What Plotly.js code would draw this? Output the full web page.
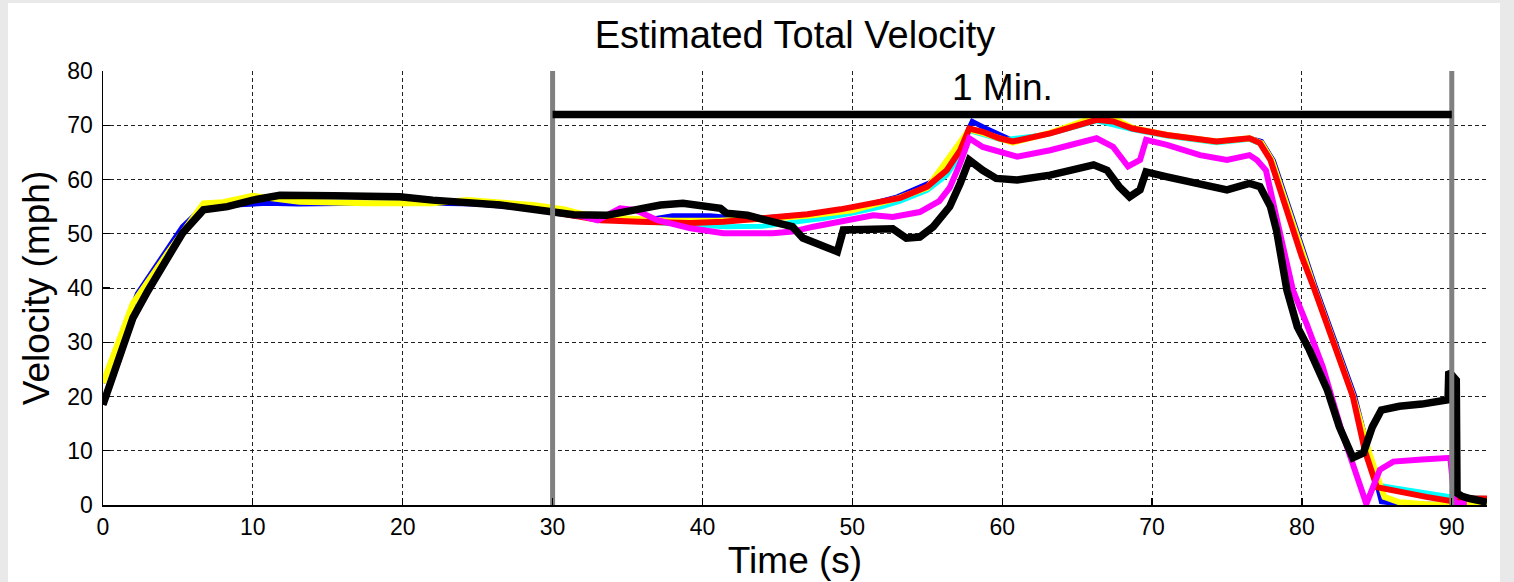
<!DOCTYPE html>
<html>
<head>
<meta charset="utf-8">
<script src="https://cdn.plot.ly/plotly-3.0.1.min.js"></script>
<style>
  html, body { margin: 0; padding: 0; background: #e9e9e9; width: 1514px; height: 582px; overflow: hidden; }
  #chart { position: absolute; left: 8px; top: 3px; width: 1492px; height: 579px; background: #ffffff; }
</style>
</head>
<body>
<div id="chart"></div>
<script>
// ---- Data ----
const chartTitle = "Estimated Total Velocity";
const xTitle = "Time (s)";
const yTitle = "Velocity (mph)";
const xTicks = [0, 10, 20, 30, 40, 50, 60, 70, 80, 90];
const yTicks = [0, 10, 20, 30, 40, 50, 60, 70, 80];

const tBlue = [0, 2.3, 5.3, 6.7, 8, 10.9, 13, 17, 20, 25, 30, 33, 36, 38, 40.5, 43, 47, 50, 53, 55.5, 56.5, 57.2, 58, 58.8, 59.8, 60.7, 63.2, 66.3, 67.4, 68.7, 71, 74.3, 76.5, 77.3, 78.1, 80.9, 83.5, 84.4, 85.3, 86.5, 90, 92.35];
const vBlue = [22.5, 39, 51.3, 55, 55.2, 55.6, 55.5, 55.6, 55.7, 55.5, 54.2, 52.6, 52.4, 53.3, 53.3, 52.7, 53.5, 54.6, 56.8, 59.8, 62.3, 66, 70.7, 69.6, 68.3, 67.2, 68.5, 71.2, 70.9, 69.5, 68.2, 67, 67.6, 67, 63.5, 40.2, 20.3, 10, 0.6, 0.2, 0.1, 0.1];

const tCyan = [0, 2, 3.8, 5.3, 6.7, 8.3, 10, 11.8, 15.4, 19.8, 22, 26.5, 29.8, 33, 36, 40, 41.5, 44, 46, 48, 50, 52, 53.2, 55, 56.3, 57.2, 57.8, 58.7, 60, 63, 66.3, 68.7, 71, 74.3, 76.5, 77.3, 78, 80.8, 83.4, 84.5, 85.2, 86.5, 88.5, 90, 92.35];
const vCyan = [18.5, 34.5, 43.3, 50.1, 54.4, 55, 56.2, 57.1, 57, 56.8, 56.2, 55.3, 54.1, 52.8, 52.2, 51.6, 51.3, 51.4, 52, 52.8, 53.8, 55, 56, 58, 60.8, 64.5, 69, 68.4, 67.3, 68.3, 70.8, 69.2, 68, 66.8, 67.4, 66.5, 63.3, 40, 20, 8, 3.6, 3, 2.2, 1.5, 1.2];

const tYellow = [0, 2, 4.3, 6.7, 8, 10, 13.1, 17.6, 22, 24.3, 28.7, 30.8, 32, 35, 38, 41, 44, 47, 50, 53, 55, 57.8, 58.7, 60.7, 63.2, 65, 66.3, 67.4, 68.7, 71, 74.3, 76.5, 77.3, 78, 80.8, 83.4, 84.5, 85.5, 86.5, 88.5, 90, 92.35];
const vYellow = [22.5, 37.2, 46.4, 55.6, 55.8, 57, 55.9, 55.6, 55.6, 56.2, 55.3, 54.5, 53.6, 52.8, 52.4, 52.4, 52.7, 53.3, 54.3, 56.5, 58.5, 69.2, 68.6, 66.8, 68.6, 70.2, 71.6, 71.3, 69.5, 68.2, 67, 67.6, 66.7, 63.5, 40.2, 20.2, 9.5, 1.5, 0.5, 0.1, 0.1, 0.1];

const tRed = [0, 2, 3.8, 5.3, 6.7, 8.3, 10, 11.8, 15.4, 19.8, 22, 26.5, 29.8, 33.2, 35.8, 39.2, 41.4, 44.7, 47, 49.2, 51.4, 53.2, 55, 56.3, 57.2, 57.8, 58.7, 59.8, 60.7, 63.2, 66.3, 67.4, 68.7, 71, 74.3, 76.5, 77.2, 77.9, 80, 80.8, 83.4, 84.2, 85, 86.5, 88.3, 90, 90.3, 92.35];
const vRed = [18.5, 34.5, 43.3, 50.1, 54.4, 55, 56.2, 57.1, 57, 56.8, 56.2, 55.3, 54.1, 52.5, 52.2, 52, 52.2, 53, 53.6, 54.5, 55.6, 56.6, 58.7, 61.7, 65.4, 69.4, 68.8, 67.6, 67, 68.5, 71, 70.7, 69.4, 68.2, 67, 67.6, 66.7, 63.6, 45.7, 40, 20, 10, 3.3, 2.4, 1.5, 0.7, 1.2, 1.2];

const tMagenta = [0, 2, 3.8, 5.3, 6.7, 8.3, 10, 11.8, 15.4, 19.8, 22, 26.5, 29.8, 32, 33, 34.5, 35.5, 37, 39.2, 41.4, 44.7, 46, 47.4, 49.2, 51.4, 52.7, 54.5, 55.8, 56.5, 57.2, 57.8, 58.7, 61, 63.2, 66.3, 67.4, 68.4, 69.2, 69.6, 71, 73.2, 75, 76.5, 77, 77.6, 78.3, 79.4, 80.3, 81.4, 82.7, 84.3, 85.2, 86.1, 88, 89.9, 90.2, 91];
const vMagenta = [18.5, 34.5, 43.3, 50.1, 54.4, 55, 56.2, 57.1, 57, 56.8, 56.2, 55.3, 54.1, 53.2, 52.5, 54.7, 54.4, 52.5, 51, 50.1, 50.1, 50.4, 51.3, 52.2, 53.4, 53.1, 54, 56, 58.5, 63, 67.6, 66, 64.2, 65.4, 67.6, 66, 62.4, 63.6, 67.3, 66.4, 64.5, 63.6, 64.5, 63.6, 61.7, 53, 39.6, 33.5, 25.4, 13.2, 0.2, 6.5, 8, 8.4, 8.7, 0.3, 0.3];

const tBlack = [0, 1, 2, 3, 3.8, 5.3, 6.7, 8.3, 10, 11.8, 15.4, 19.8, 22, 26.5, 29.8, 31.4, 33.6, 35.8, 37.2, 38.7, 40, 41.2, 41.6, 43, 44.7, 46, 46.7, 48, 49, 49.4, 50, 52.7, 53.6, 54.5, 55.4, 56.5, 57.2, 57.8, 58.7, 59.6, 61, 63.2, 66.1, 67, 67.8, 68.5, 69.2, 69.6, 71, 73.2, 75, 76.5, 77.2, 77.9, 78.3, 79, 79.7, 80.5, 81.7, 82.5, 83.4, 84.1, 84.7, 85.3, 86.5, 88, 89.6, 89.75, 89.8, 90.3, 90.35, 90.7, 91.2, 92.35];
const vBlack = [18.5, 26.5, 34.5, 39.5, 43.3, 50.1, 54.4, 55, 56.2, 57.1, 57, 56.8, 56.2, 55.3, 54.1, 53.5, 53.4, 54.4, 55.3, 55.6, 55.1, 54.7, 53.8, 53.4, 52.2, 51.3, 49.2, 47.9, 46.7, 50.7, 50.7, 50.9, 49.2, 49.4, 51.3, 55, 59.3, 63.6, 61.7, 60.2, 59.9, 60.8, 62.7, 61.7, 58.7, 56.8, 58.1, 61.4, 60.5, 59.3, 58.1, 59.3, 58.7, 55, 50.7, 39.6, 32.8, 28.6, 21.2, 14.4, 8.7, 9.6, 14.4, 17.5, 18.2, 18.6, 19.2, 19.4, 24.6, 23, 2.2, 1.6, 1.2, 0.5];

// window markers: start/end of the "1 Min." interval
const windowTimes = [30, 90];
const windowLevel = 72;
const windowLabel = "1 Min.";
const windowLabelPos = [60, 77];

// ---- Traces ----
const font = "Liberation Sans, Arial, sans-serif";
function line(x, y, color, width) {
  return { type: "scatter", mode: "lines", x: x, y: y, line: { color: color, width: width }, hoverinfo: "skip", showlegend: false };
}
const traces = [
  line(tBlue, vBlue, "#0000ff", 5),
  line(tCyan, vCyan, "#00ffff", 5),
  line(tYellow, vYellow, "#ffff00", 6),
  line(tRed, vRed, "#ff0000", 6),
  line(tMagenta, vMagenta, "#ff00ff", 6),
  line(tBlack, vBlack, "#000000", 7.5),
  line([windowTimes[0], windowTimes[0]], [yTicks[0], yTicks[yTicks.length - 1]], "#808080", 5),
  line([windowTimes[1], windowTimes[1]], [yTicks[0], yTicks[yTicks.length - 1]], "#808080", 5),
  line(windowTimes, [windowLevel, windowLevel], "#000000", 7.5)
];

const axisCommon = {
  showline: true, linecolor: "#000", linewidth: 1.5,
  ticks: "inside", ticklen: 7, tickcolor: "#000", tickwidth: 1.2,
  showgrid: true, gridcolor: "#222", gridwidth: 1, griddash: "4px,3px",
  zeroline: false, mirror: false,
  tickfont: { family: font, size: 23, color: "#000" }
};

const layout = {
  width: 1492, height: 579,
  paper_bgcolor: "#ffffff", plot_bgcolor: "#ffffff",
  margin: { l: 95, r: 13, t: 68, b: 77 },
  title: { text: chartTitle, font: { family: font, size: 38, color: "#000" }, x: 0.5, xref: "paper", xanchor: "center", y: 0.945, yref: "container", yanchor: "middle" },
  xaxis: Object.assign({}, axisCommon, {
    range: [0, 92.35], tickvals: xTicks, ticktext: xTicks.map(String),
    ticklabelstandoff: 1,
    title: { text: xTitle, font: { family: font, size: 37, color: "#000" }, standoff: 0 }
  }),
  yaxis: Object.assign({}, axisCommon, {
    range: [0, 80], tickvals: yTicks, ticktext: yTicks.map(String),
    ticklabelstandoff: 4,
    title: { text: yTitle, font: { family: font, size: 37, color: "#000" }, standoff: 6 }
  }),
  annotations: [{
    x: windowLabelPos[0], y: windowLabelPos[1], xref: "x", yref: "y",
    text: windowLabel, showarrow: false,
    font: { family: font, size: 37, color: "#000" }, xanchor: "center", yanchor: "middle"
  }],
  showlegend: false
};

Plotly.newPlot("chart", traces, layout, { staticPlot: true, displayModeBar: false });
</script>
</body>
</html>
